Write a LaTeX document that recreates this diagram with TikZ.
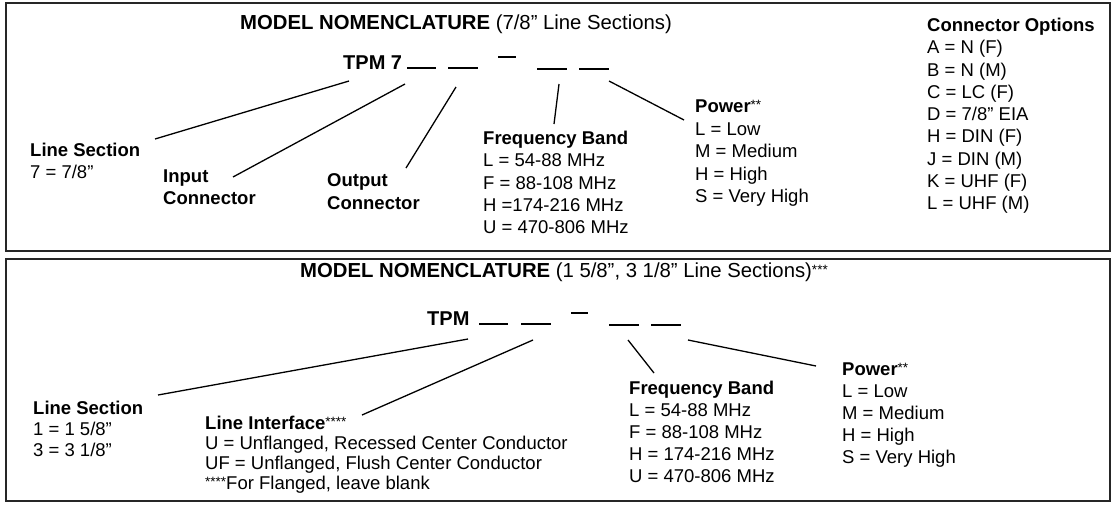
\documentclass[tikz,border=0pt]{standalone}
\usepackage{fontspec}
\setmainfont{Liberation Sans}
\newcommand{\stars}[1]{\raisebox{3pt}{\fontsize{13.5}{13.5}\selectfont #1}}

\begin{document}
\begin{tikzpicture}[
    x=1pt, y=-1pt,
    panel/.style={draw=black!85, line width=2pt},
    heading/.style={anchor=base, inner sep=0pt, font=\fontsize{20.3}{24}\selectfont},
    model/.style={anchor=base west, inner sep=0pt, font=\fontsize{20}{24}\selectfont\bfseries},
    legend/.style={anchor=north west, inner sep=0pt, align=left,
                   font=\fontsize{18.5}{#1}\selectfont},
    legend/.default=22,
    blank/.style={line width=2.4pt},
    leader/.style={line width=1.3pt}
]

\useasboundingbox (0,0) rectangle (1113,504);

% Top panel (7/8" sections)
\draw[panel] (6,3) rectangle (1110,251);
\node[heading] at (456,29) (title78) {\textbf{MODEL NOMENCLATURE} (7/8" Line Sections)};
\node[model] at (343,69) (tpm7) {TPM 7};
\foreach \xa/\xb/\yy in {407/436/68, 448/478/68, 498/516/57, 537/567/69, 579/609/69}
    \draw[blank] (\xa,\yy) -- (\xb,\yy);

\node[legend] at (30,143) (lsec7) {\textbf{Line Section}\\7 = 7/8”};
\node[legend] at (163,170) (inconn) {\textbf{Input}\\\textbf{Connector}};
\node[legend=23] at (327,173) (outconn) {\textbf{Output}\\\textbf{Connector}};
\node[legend=22.3] at (483,131) (freq7)
    {\textbf{Frequency Band}\\L = 54-88 MHz\\F = 88-108 MHz\\H =174-216 MHz\\U = 470-806 MHz};
\node[legend=22.5] at (695,100) (power7)
    {\textbf{Power}\stars{**}\\L = Low\\M = Medium\\H = High\\S = Very High};
\node[legend=22.25] at (927,18) (connopt)
    {\textbf{Connector Options}\\A = N (F)\\B = N (M)\\C = LC (F)\\D = 7/8” EIA\\H = DIN (F)\\J = DIN (M)\\K = UHF (F)\\L = UHF (M)};

% leader ends
\coordinate (lsec7-top) at (349,81);   \coordinate (lsec7-end) at (155,139);
\coordinate (inconn-top) at (405,84);  \coordinate (inconn-end) at (233,177);
\coordinate (outconn-top) at (456,87); \coordinate (outconn-end) at (406,168);
\coordinate (freq7-top) at (559,84);   \coordinate (freq7-end) at (554,124);
\coordinate (power7-top) at (609,81);  \coordinate (power7-end) at (684,120);

\draw[leader] (lsec7-top) -- (lsec7-end);
\draw[leader] (inconn-top) -- (inconn-end);
\draw[leader] (outconn-top) -- (outconn-end);
\draw[leader] (freq7-top) -- (freq7-end);
\draw[leader] (power7-top) -- (power7-end);

% Bottom panel (1 5/8", 3 1/8" sections)
\draw[panel] (6,259) rectangle (1110,501);
\node[heading] at (564,277) (title158)
    {\textbf{MODEL NOMENCLATURE} (1 5/8”, 3 1/8” Line Sections)\stars{***}};
\node[model] at (427,325) (tpm) {TPM};
\foreach \xa/\xb/\yy in {479/508/324, 521/551/324, 571/588/313, 609/639/325, 651/681/325}
    \draw[blank] (\xa,\yy) -- (\xb,\yy);

\node[legend=21] at (33,401) (lsec) {\textbf{Line Section}\\1 = 1 5/8”\\3 = 3 1/8”};
\node[legend=20] at (205,416) (iface)
    {\textbf{Line Interface}\stars{****}\\U = Unflanged, Recessed Center Conductor\\UF = Unflanged, Flush Center Conductor\\\stars{****}For Flanged, leave blank};
\node[legend] at (629,381) (freq)
    {\textbf{Frequency Band}\\L = 54-88 MHz\\F = 88-108 MHz\\H = 174-216 MHz\\U = 470-806 MHz};
\node[legend] at (842,363) (power)
    {\textbf{Power}\stars{**}\\L = Low\\M = Medium\\H = High\\S = Very High};

% leader ends
\coordinate (lsec-top) at (468,339);  \coordinate (lsec-end) at (158,395);
\coordinate (iface-top) at (533,340); \coordinate (iface-end) at (362,415);
\coordinate (freq-top) at (628,340);  \coordinate (freq-end) at (654,373);
\coordinate (power-top) at (688,340); \coordinate (power-end) at (816,366);

\draw[leader] (lsec-top) -- (lsec-end);
\draw[leader] (iface-top) -- (iface-end);
\draw[leader] (freq-top) -- (freq-end);
\draw[leader] (power-top) -- (power-end);

\end{tikzpicture}
\end{document}
